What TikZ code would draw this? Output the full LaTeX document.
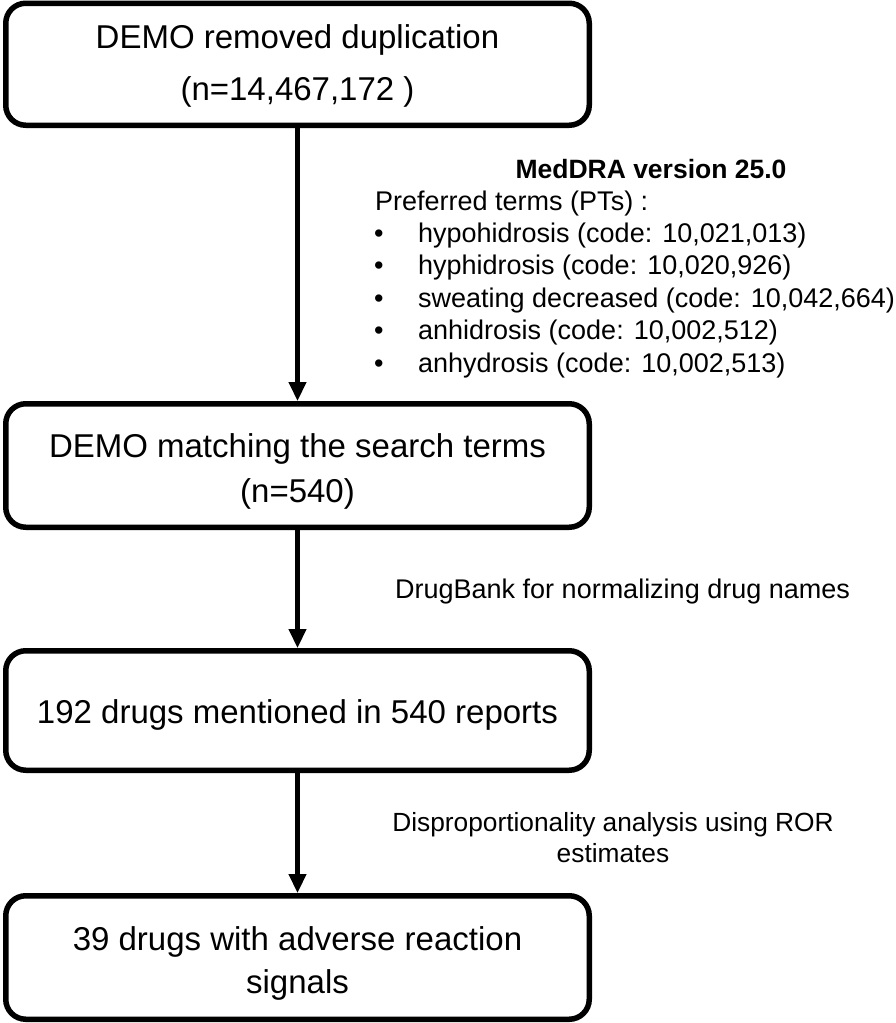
\documentclass[tikz,border=0pt]{standalone}
\usepackage{fontspec}
\setmainfont{Liberation Sans}
\usetikzlibrary{arrows.meta}
\tikzset{
  flowbox/.style={draw=black, line width=5.5pt, rounded corners=20pt,
    minimum width=583.5pt, inner sep=0pt, align=center,
    font=\fontsize{33}{52}\selectfont},
  flowarrow/.style={line width=4.5pt, -{Triangle[length=19pt,width=17pt]}},
  sidetext/.style={inner sep=0pt, anchor=base west, font=\fontsize{27}{32}\selectfont},
  listline/.style={sidetext},
}
\begin{document}
\begin{tikzpicture}[x=1pt,y=-1pt]
\useasboundingbox (0,0) rectangle (896,1023);

\node[flowbox, minimum height=122pt] (b1) at (297.5,64.25)
  {\rule{0pt}{26.5pt}DEMO removed duplication\\(n=14,467,172 )};
\node[flowbox, minimum height=123.5pt, font=\fontsize{33}{45}\selectfont] (b2) at (297.5,465.5)
  {\rule{0pt}{35pt}DEMO matching the search terms\\(n=540)};
\node[flowbox, minimum height=119.5pt] (b3) at (297.5,710.5)
  {\rule{0pt}{31.9pt}192 drugs mentioned in 540 reports};
\node[flowbox, minimum height=123.5pt, font=\fontsize{33}{43}\selectfont] (b4) at (297.5,957.5)
  {\rule{0pt}{34.9pt}39 drugs with adverse reaction\\signals};

\draw[flowarrow] (b1.south) -- (b2.north);
\draw[flowarrow] (b2.south) -- (b3.north);
\draw[flowarrow] (b3.south) -- (b4.north);

\node[inner sep=0pt, anchor=base, font=\bfseries\fontsize{26.5}{32}\selectfont] (title) at (651,178) {MedDRA version 25.0};
\node[sidetext] (pt) at (375,210) {Preferred terms (PTs) :};
\node[listline] (t1) at (374,242.4) {\makebox[44pt][l]{\textbullet}hypohidrosis (code: 10,021,013)};
\node[listline] (t2) at (374,274.8) {\makebox[44pt][l]{\textbullet}hyphidrosis (code: 10,020,926)};
\node[listline] (t3) at (374,307.2) {\makebox[44pt][l]{\textbullet}sweating decreased (code: 10,042,664)};
\node[listline] (t4) at (374,339.6) {\makebox[44pt][l]{\textbullet}anhidrosis (code: 10,002,512)};
\node[listline] (t5) at (374,372) {\makebox[44pt][l]{\textbullet}anhydrosis (code: 10,002,513)};

\node[sidetext] (drugbank) at (395,598) {DrugBank for normalizing drug names};
\node[inner sep=0pt, anchor=north, align=center, font=\fontsize{26.3}{31}\selectfont] (ror) at (613,811.8)
  {Disproportionality analysis using ROR\\estimates};
\end{tikzpicture}
\end{document}
